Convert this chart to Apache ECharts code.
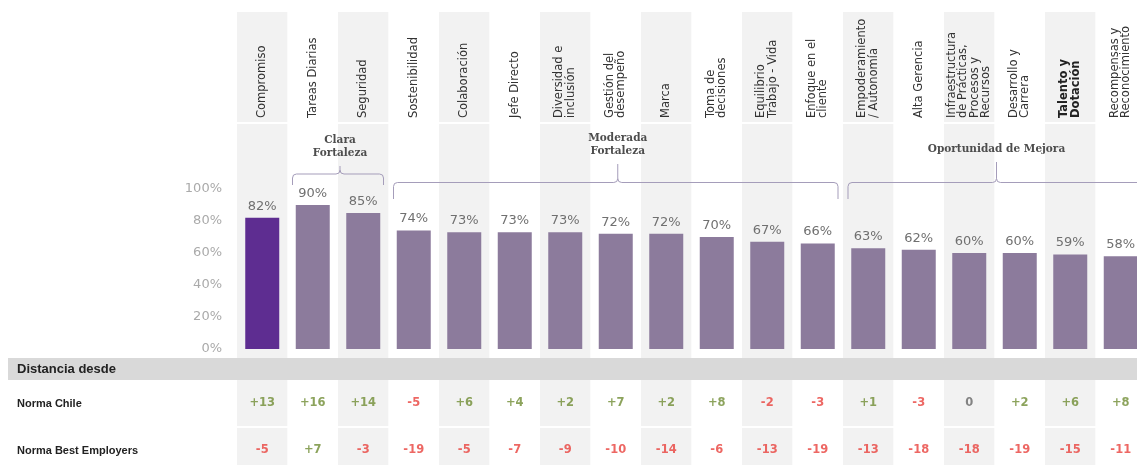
<!DOCTYPE html>
<html>
<head>
<meta charset="utf-8">
<script src="https://cdn.jsdelivr.net/npm/echarts@6/dist/echarts.min.js"></script>
<style>
  html, body { margin: 0; padding: 0; background: #fff; }
  #chart { width: 1137px; height: 465px; }
</style>
</head>
<body>
<div id="chart"></div>
<script>
const categories = [
  'Compromiso', 'Tareas Diarias', 'Seguridad', 'Sostenibilidad', 'Colaboración',
  'Jefe Directo', 'Diversidad e\ninclusión', 'Gestión del\ndesempeño', 'Marca',
  'Toma de\ndecisiones', 'Equilibrio\nTrabajo - Vida', 'Enfoque en el\ncliente',
  'Empoderamiento\n/ Autonomía', 'Alta Gerencia',
  'Infraestructura\nde Prácticas,\nProcesos y\nRecursos', 'Desarrollo y\nCarrera',
  'Talento y\nDotación', 'Recompensas y\nReconocimiento'
];
const boldCategory = 'Talento y\nDotación';
const scores = [82, 90, 85, 74, 73, 73, 73, 72, 72, 70, 67, 66, 63, 62, 60, 60, 59, 58];
const rowNames = ['Norma Chile', 'Norma Best Employers'];
const normaChile = [13, 16, 14, -5, 6, 4, 2, 7, 2, 8, -2, -3, 1, -3, 0, 2, 6, 8];
const normaBest = [-5, 7, -3, -19, -5, -7, -9, -10, -14, -6, -13, -19, -13, -18, -18, -19, -15, -11];
const groupNames = ['Clara\nFortaleza', 'Moderada\nFortaleza', 'Oportunidad de Mejora'];
const groupFrom = [1, 3, 12];
const groupTo = [2, 11, 17];
const tableTitle = 'Distancia desde';

const DARK = '#5e2d91';
const LIGHT = '#8c7b9c';
const GREEN = '#6f8c33';
const RED = '#e8413c';
// bracket geometry per group (pixels): [horizontal y, peak y, end y]
const bracketY = [[174, 166, 185], [182.5, 164, 199], [182.5, 162, 199]];
// the last column runs past the right edge of the picture
const GRID_LEFT = 237;
const GRID_WIDTH = 909;

const chartDom = document.getElementById('chart');
const mychart = echarts.init(chartDom);

const fmtDiff = function (v) {
  return v > 0 ? '+' + v : String(v);
};
const diffColor = function (v) {
  return v > 0 ? GREEN : (v < 0 ? RED : '#666');
};

const tableData = [];
[normaChile, normaBest].forEach(function (row, r) {
  row.forEach(function (v, i) {
    tableData.push({ value: [i, r, v], label: { color: diffColor(v) } });
  });
});

const hiddenX = function (idx) {
  return {
    type: 'category', gridIndex: idx, data: categories,
    axisLine: { show: false }, axisTick: { show: false }, axisLabel: { show: false }
  };
};

const makeGrid = function (top, height) {
  return { left: GRID_LEFT, width: GRID_WIDTH, top: top, height: height, outerBoundsMode: 'none' };
};

const renderBracket = function (params, api) {
  const g = api.value(2);
  const bandW = api.size([1, 0])[0];
  const x0 = api.coord([api.value(0), 0])[0] - bandW / 2 + 5;
  const x1 = api.coord([api.value(1), 0])[0] + bandW / 2 - 5;
  const xc = (x0 + x1) / 2 + 2;
  const yh = bracketY[g][0], yt = bracketY[g][1], yb = bracketY[g][2];
  const r = 4;
  const path = 'M' + x0 + ',' + yb +
    ' L' + x0 + ',' + (yh + r) + ' Q' + x0 + ',' + yh + ' ' + (x0 + r) + ',' + yh +
    ' L' + (xc - r) + ',' + yh + ' Q' + xc + ',' + yh + ' ' + xc + ',' + (yh - r) +
    ' L' + xc + ',' + yt +
    ' M' + xc + ',' + (yh - r) + ' Q' + xc + ',' + yh + ' ' + (xc + r) + ',' + yh +
    ' L' + (x1 - r) + ',' + yh + ' Q' + x1 + ',' + yh + ' ' + x1 + ',' + (yh + r) +
    ' L' + x1 + ',' + yb;
  return {
    type: 'group',
    children: [
      {
        type: 'path', shape: { pathData: path },
        style: { fill: 'none', stroke: '#a59dba', lineWidth: 1 }
      },
      {
        type: 'text',
        style: {
          x: xc, y: yt - 6, text: groupNames[g], fill: '#4d4d4d',
          font: 'bold 10.5px "DejaVu Serif"', align: 'center', verticalAlign: 'bottom', lineHeight: 13
        }
      }
    ]
  };
};

const option = {
  animation: false,
  grid: [
    makeGrid(12, 453),
    makeGrid(122, 1),
    makeGrid(189, 160),
    makeGrid(380, 94)
  ],
  xAxis: [
    Object.assign(hiddenX(0), {
      splitArea: { show: true, interval: 0, areaStyle: { color: ['#f2f2f2', '#ffffff'] } }
    }),
    {
      type: 'category', gridIndex: 1, position: 'top',
      data: categories.map(function (c) {
        return c === boldCategory ? { value: c, textStyle: { fontWeight: 'bold', color: '#222' } } : c;
      }),
      axisLine: { show: false }, axisTick: { show: false },
      axisLabel: {
        interval: 0, rotate: 90, margin: 4, fontSize: 11.5, lineHeight: 11.5,
        color: '#333', fontFamily: 'DejaVu Sans'
      }
    },
    hiddenX(2),
    hiddenX(3)
  ],
  yAxis: [
    { type: 'value', gridIndex: 0, min: 0, max: 1, show: false },
    { type: 'value', gridIndex: 1, show: false },
    {
      type: 'value', gridIndex: 2, min: 0, max: 100, interval: 20,
      axisLine: { show: false }, axisTick: { show: false }, splitLine: { show: false },
      axisLabel: { formatter: '{value}%', color: '#aaa', fontSize: 13, margin: 15, fontFamily: 'DejaVu Sans' }
    },
    {
      type: 'category', gridIndex: 3, data: rowNames, inverse: true,
      axisLine: { show: false }, axisTick: { show: false },
      axisLabel: {
        align: 'left', margin: 220, fontWeight: 'bold', fontSize: 11,
        color: '#222', fontFamily: 'Liberation Sans'
      }
    }
  ],
  series: [
    {
      type: 'bar', xAxisIndex: 2, yAxisIndex: 2, barWidth: 34, silent: true,
      data: scores.map(function (v, i) {
        return { value: v, itemStyle: { color: i === 0 ? DARK : LIGHT } };
      }),
      label: {
        show: true, position: 'top', distance: 5, formatter: '{c}%',
        color: '#707070', fontSize: 13, fontFamily: 'DejaVu Sans'
      }
    },
    {
      type: 'scatter', xAxisIndex: 3, yAxisIndex: 3, symbolSize: 1, silent: true,
      itemStyle: { color: 'rgba(0,0,0,0)' },
      data: tableData,
      label: {
        show: true, position: 'inside', fontWeight: 'bold', fontSize: 11.5,
        fontFamily: 'DejaVu Sans',
        formatter: function (p) { return fmtDiff(p.value[2]); }
      }
    },
    {
      type: 'custom', xAxisIndex: 0, yAxisIndex: 0, silent: true, clip: false, z: 10,
      renderItem: renderBracket,
      data: groupNames.map(function (n, g) { return [groupFrom[g], groupTo[g], g]; })
    }
  ],
  graphic: [
    { type: 'rect', z: 100, shape: { x: 8, y: 358, width: 1129, height: 22 }, style: { fill: '#d9d9d9' } },
    {
      type: 'text', z: 101, x: 17, y: 369,
      style: { text: tableTitle, fill: '#222', font: 'bold 13px "Liberation Sans"', verticalAlign: 'middle' }
    },
    { type: 'rect', z: 100, shape: { x: 237, y: 122, width: 900, height: 2 }, style: { fill: '#fff' } },
    { type: 'rect', z: 100, shape: { x: 8, y: 426, width: 1129, height: 2 }, style: { fill: '#fff' } }
  ]
};
mychart.setOption(option);
</script>
</body>
</html>
